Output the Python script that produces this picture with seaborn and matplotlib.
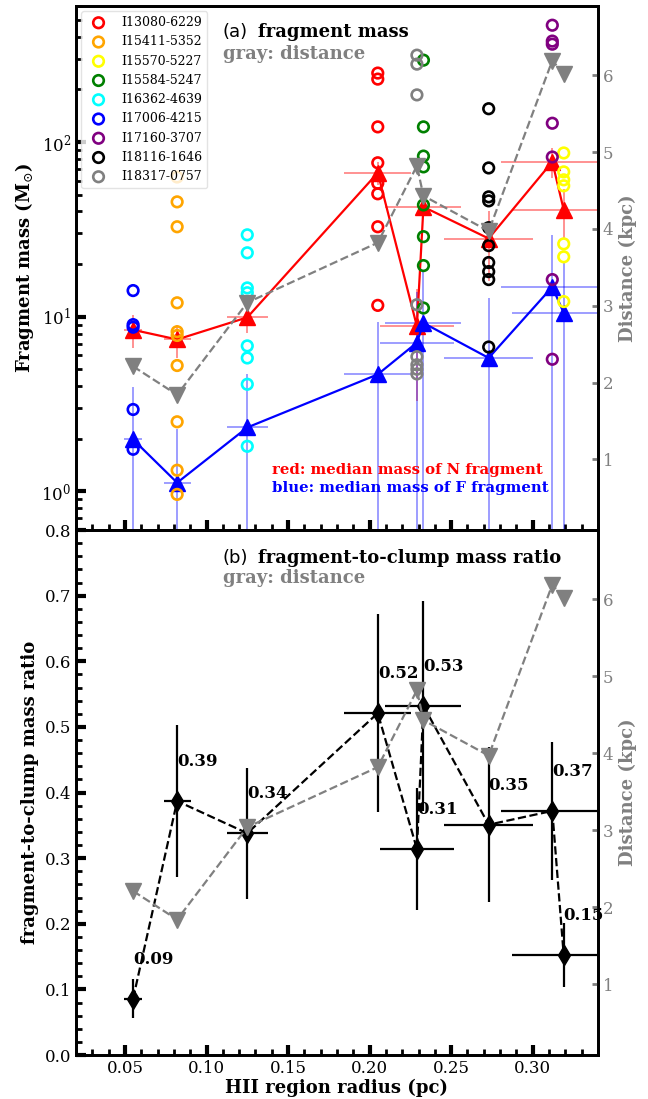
import matplotlib
matplotlib.use("Agg")
import matplotlib.pyplot as plt
from matplotlib.ticker import MultipleLocator, LogLocator, NullFormatter, FixedLocator
import pandas as pd
import seaborn as sns

# ---- sources (legend order) -------------------------------------------------
sources = ["I13080-6229", "I15411-5352", "I15570-5227", "I15584-5247",
           "I16362-4639", "I17006-4215", "I17160-3707", "I18116-1646",
           "I18317-0757"]
source_colors = ["red", "orange", "yellow", "green", "cyan", "blue",
                 "purple", "black", "gray"]

# HII region radius (pc) and its uncertainty
hii_radius = [0.205, 0.082, 0.319, 0.233, 0.125, 0.055, 0.312, 0.273, 0.229]
hii_radius_err = [0.0205, 0.0082, 0.0319, 0.0233, 0.0125, 0.0055, 0.0312,
                  0.0273, 0.0229]

# distance (kpc)
distance_kpc = [3.82, 1.84, 6.02, 4.43, 3.04, 2.21, 6.19, 3.97, 4.82]

# individual fragment masses (Msun)
mass_I13080 = [248, 229, 122, 76, 58, 50.5, 32.7, 11.6]
mass_I15411 = [63, 45.4, 32.7, 12.0, 8.2, 7.8, 5.25, 2.5, 1.32, 0.96]
mass_I15570 = [86.5, 67.4, 60.7, 56.1, 26.1, 22.0, 12.2]
mass_I15584 = [294, 122, 83, 72, 43.6, 28.7, 19.6, 11.2]
mass_I16362 = [29.4, 23.2, 14.6, 13.7, 6.8, 5.8, 4.1, 1.81]
mass_I17006 = [14.1, 9.0, 8.7, 2.94, 1.74]
mass_I17160 = [466, 378, 363, 128, 82, 16.3, 5.7]
mass_I18116 = [155, 71, 48.5, 46, 32.3, 25.5, 20.4, 18.1, 16.3, 6.7]
mass_I18317 = [314, 279, 186, 11.7, 5.9, 5.3, 5.0, 4.7]
fragment_masses = [mass_I13080, mass_I15411, mass_I15570, mass_I15584,
                   mass_I16362, mass_I17006, mass_I17160, mass_I18116,
                   mass_I18317]

# median masses of N and F fragments (Msun)
median_N = [66.6, 7.4, 40.9, 42.5, 9.9, 8.4, 77.0, 28.0, 8.8]
median_N_err = [10.0, 1.6, 13.0, 5.0, 1.8, 1.8, 15.0, 12.0, 5.5]
median_F = [4.67, 1.12, 10.5, 9.2, 2.32, 1.98, 14.8, 5.8, 7.1]
median_F_err = [4.7, 1.14, 10.1, 9.4, 2.35, 2.0, 14.6, 7.0, 6.8]

# fragment-to-clump mass ratio
mass_ratio = [0.521, 0.387, 0.152, 0.532, 0.338, 0.086, 0.372, 0.351, 0.314]
mass_ratio_err = [0.151, 0.116, 0.049, 0.16, 0.10, 0.03, 0.105, 0.118, 0.093]

# ---- style ------------------------------------------------------------------
sns.set_style("ticks", {
    "axes.edgecolor": "black", "text.color": "black",
    "axes.labelcolor": "black", "xtick.color": "black",
    "ytick.color": "black", "xtick.direction": "in",
    "ytick.direction": "in",
})
plt.rcParams.update({
    "font.family": ["DejaVu Serif"],
    "mathtext.fontset": "dejavuserif",
    "font.size": 12,
    "axes.linewidth": 2.0,
})

LABEL_SIZE = 13

fig = plt.figure(figsize=(6.48, 10.99), dpi=100)
ax1 = fig.add_axes([0.1173, 0.5177, 0.8055, 0.4768])
ax2 = fig.add_axes([0.1173, 0.0400, 0.8055, 0.4777], sharex=ax1)

def style_ticks(ax):
    ax.tick_params(which="major", direction="in", length=7, width=3.0,
                   labelsize=12)
    ax.tick_params(which="minor", direction="in", length=4, width=2.0)
    ax.tick_params(axis="x", which="both", top=False)
    ax.tick_params(axis="y", which="both", right=False)

def style_twin(axr):
    axr.set_ylim(0.08, 6.9)
    axr.yaxis.set_major_locator(FixedLocator([1, 2, 3, 4, 5, 6]))
    axr.tick_params(axis="y", direction="in", colors="gray", length=4,
                    width=2, labelsize=12)
    axr.set_ylabel("Distance (kpc)", color="gray", fontweight="bold",
                   fontsize=LABEL_SIZE)
    for sp in axr.spines.values():
        sp.set_linewidth(2.0)
        sp.set_color("black")

# ---- (a) fragment mass -------------------------------------------------------
ax1.set_yscale("log")
ax1.errorbar(hii_radius, median_N, xerr=hii_radius_err, yerr=median_N_err,
             fmt="none", ecolor="red", alpha=0.5, elinewidth=1.2, zorder=2)
ax1.errorbar(hii_radius, median_F, xerr=hii_radius_err, yerr=median_F_err,
             fmt="none", ecolor="blue", alpha=0.45, elinewidth=1.2, zorder=2)

medians = pd.DataFrame({"radius": hii_radius, "N": median_N, "F": median_F})
sns.lineplot(data=medians, x="radius", y="N", ax=ax1, color="red",
             marker="^", markersize=11, mec="red", mew=1, lw=1.6,
             estimator=None, sort=True, zorder=3)
sns.lineplot(data=medians, x="radius", y="F", ax=ax1, color="blue",
             marker="^", markersize=11, mec="blue", mew=1, lw=1.6,
             estimator=None, sort=True, zorder=3)

for name, col, r, masses in zip(sources, source_colors, hii_radius,
                                fragment_masses):
    sns.scatterplot(x=[r] * len(masses), y=masses, ax=ax1, color=col,
                    facecolors="none", edgecolor=col, linewidth=1.9, s=58,
                    label=name, zorder=4)

ax1.set_ylim(0.6, 600)
ax1.set_xlim(0.02, 0.34)
ax1.yaxis.set_major_locator(LogLocator(base=10, numticks=10))
ax1.yaxis.set_minor_locator(LogLocator(base=10, subs=range(2, 10), numticks=20))
ax1.yaxis.set_minor_formatter(NullFormatter())
ax1.xaxis.set_major_locator(MultipleLocator(0.05))
ax1.xaxis.set_minor_locator(MultipleLocator(0.01))
style_ticks(ax1)
ax1.tick_params(axis="x", which="both", labelbottom=False)
ax1.set_xlabel("")
ax1.set_ylabel(r"Fragment mass (M$_{\odot}$)", fontweight="bold",
               fontsize=LABEL_SIZE)

leg = ax1.legend(loc="upper left", fontsize=9, frameon=True,
                 borderaxespad=0.4, handletextpad=0.8, labelspacing=0.5)
leg.get_frame().set_edgecolor("#dddddd")
leg.get_frame().set_linewidth(1.0)

ax1.text(0.2816, 0.950, "(a)", transform=ax1.transAxes, family="DejaVu Sans",
         fontsize=13, va="center", ha="left")
ax1.text(0.3487, 0.950, "fragment mass", transform=ax1.transAxes,
         fontweight="bold", fontsize=13, va="center", ha="left")
ax1.text(0.2816, 0.908, "gray: distance", transform=ax1.transAxes,
         fontweight="bold", fontsize=13, va="center", ha="left", color="gray")
ax1.text(0.3755, 0.1145, "red: median mass of N fragment",
         transform=ax1.transAxes, fontweight="bold", fontsize=10.7,
         va="center", ha="left", color="red")
ax1.text(0.3755, 0.080, "blue: median mass of F fragment",
         transform=ax1.transAxes, fontweight="bold", fontsize=10.7,
         va="center", ha="left", color="blue")

ax1r = ax1.twinx()
sns.lineplot(x=hii_radius, y=distance_kpc, ax=ax1r, color="gray", marker="v",
             markersize=11, mec="gray", mew=1, lw=1.6, linestyle="--",
             estimator=None, sort=True)
style_twin(ax1r)

# ---- (b) fragment-to-clump mass ratio -----------------------------------------
ax2.errorbar(hii_radius, mass_ratio, xerr=hii_radius_err, yerr=mass_ratio_err,
             fmt="none", ecolor="black", elinewidth=1.6, zorder=2)
sns.lineplot(x=hii_radius, y=mass_ratio, ax=ax2, color="black", marker="d",
             markersize=10, mec="black", mew=1, lw=1.6, linestyle="--",
             estimator=None, sort=True, zorder=3)
for r, v in zip(hii_radius, mass_ratio):
    ax2.text(r, v + 0.06, f"{v:.2f}", fontweight="bold", fontsize=12,
             ha="left", va="center")

ax2.set_ylim(0.0, 0.8)
ax2.set_xlim(0.02, 0.34)
ax2.yaxis.set_major_locator(MultipleLocator(0.1))
ax2.yaxis.set_minor_locator(MultipleLocator(0.02))
ax2.xaxis.set_major_locator(MultipleLocator(0.05))
ax2.xaxis.set_minor_locator(MultipleLocator(0.01))
style_ticks(ax2)
ax2.set_xlabel("HII region radius (pc)", fontweight="bold",
               fontsize=LABEL_SIZE, labelpad=1)
ax2.set_ylabel("fragment-to-clump mass ratio", fontweight="bold",
               fontsize=LABEL_SIZE)

ax2.text(0.2816, 0.947, "(b)", transform=ax2.transAxes, family="DejaVu Sans",
         fontsize=13, va="center", ha="left")
ax2.text(0.3487, 0.947, "fragment-to-clump mass ratio",
         transform=ax2.transAxes, fontweight="bold", fontsize=13,
         va="center", ha="left")
ax2.text(0.2816, 0.909, "gray: distance", transform=ax2.transAxes,
         fontweight="bold", fontsize=13, va="center", ha="left", color="gray")

ax2r = ax2.twinx()
sns.lineplot(x=hii_radius, y=distance_kpc, ax=ax2r, color="gray", marker="v",
             markersize=11, mec="gray", mew=1, lw=1.6, linestyle="--",
             estimator=None, sort=True)
style_twin(ax2r)

for ax in (ax1, ax2):
    for sp in ax.spines.values():
        sp.set_linewidth(2.0)
        sp.set_color("black")

fig.savefig("out.png", dpi=100)
